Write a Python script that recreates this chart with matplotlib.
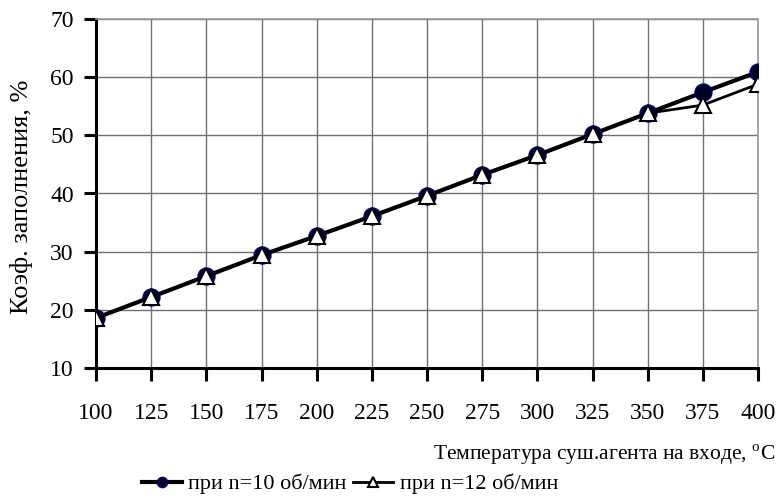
import matplotlib.pyplot as plt
import numpy as np

plt.rcParams['font.family'] = ['Liberation Serif', 'DejaVu Serif']
plt.rcParams['mathtext.fontset'] = 'custom'
plt.rcParams['mathtext.rm'] = 'Liberation Serif'

temps = [100, 125, 150, 175, 200, 225, 250, 275, 300, 325, 350, 375, 400]
fill_n10 = [18.6, 22.2, 25.8, 29.4, 32.7, 36.1, 39.6, 43.2, 46.6, 50.2, 53.8, 57.4, 60.9]
fill_n12 = [18.6, 22.2, 25.8, 29.4, 32.7, 36.1, 39.6, 43.2, 46.6, 50.2, 53.8, 55.2, 58.8]

fig = plt.figure(figsize=(7.81, 4.99), dpi=100)
ax = fig.add_axes([96 / 781, 1 - 368 / 499, (758 - 96) / 781, (368 - 19) / 499])

ax.plot(temps, fill_n10, color='black', lw=3, marker='o', ms=12,
        mfc='#000020', mec='#000080', mew=1.2, label='при n=10 об/мин', zorder=3)
ax.plot(temps, fill_n12, color='black', lw=2, marker='^', ms=12,
        mfc='white', mec='black', mew=1.5, label='при n=12 об/мин', zorder=4)

ax.set_xlim(100, 400)
ax.set_ylim(10, 70)
ax.set_xticks(np.arange(100, 401, 25))
ax.set_yticks(np.arange(10, 71, 10))
ax.grid(True, color='#707070', lw=1)
ax.set_axisbelow(True)

for s in ['top', 'right']:
    ax.spines[s].set_color('#999999')
    ax.spines[s].set_linewidth(1.2)
for s in ['left', 'bottom']:
    ax.spines[s].set_linewidth(2.2)
ax.tick_params(axis='both', direction='out', width=2.2, length=9, labelsize=17, colors='black')
ax.tick_params(axis='x', pad=16)
ax.tick_params(axis='y', pad=7)

ax.set_ylabel('Коэф. заполнения, %', fontsize=19)
ax.yaxis.set_label_coords(-0.095, 0.49)
fig.text(775 / 781, 1 - 455 / 499, 'Температура суш.агента на входе, $^{\\rm o}$C',
         ha='right', va='center', fontsize=15.5)

ax.legend(loc='center', bbox_to_anchor=(350 / 781, 1 - 484 / 499),
          bbox_transform=fig.transFigure, ncol=2, frameon=False, fontsize=16,
          handlelength=1.8, handletextpad=0.3, columnspacing=0.3, borderpad=0,
          markerscale=0.6)

fig.savefig('out.png', dpi=100)
